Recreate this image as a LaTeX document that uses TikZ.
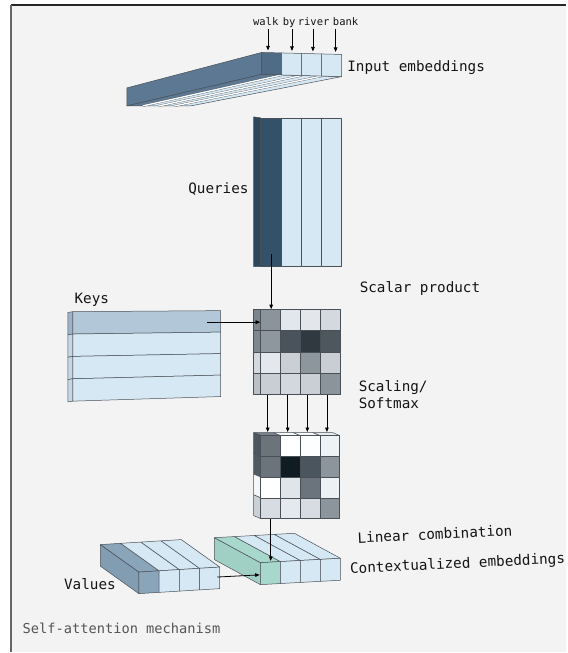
\documentclass[tikz,border=0pt]{standalone}
\usepackage{fontspec}
\setmonofont{DejaVu Sans Mono}
\usetikzlibrary{arrows.meta}
\definecolor{paper}{HTML}{F3F3F3}
\definecolor{edge}{HTML}{4A5058}
\definecolor{pale}{HTML}{D6E8F3}
\definecolor{navy}{HTML}{33526A}
\definecolor{navyside}{HTML}{2B475C}
\definecolor{steel}{HTML}{4F6B85}
\definecolor{steelside}{HTML}{5C7893}
\definecolor{keyrow}{HTML}{B2C7D7}
\definecolor{keyside}{HTML}{9DB3C5}
\definecolor{paleside}{HTML}{C4D7E4}
\definecolor{valcol}{HTML}{8AA4BA}
\definecolor{valside}{HTML}{829CB2}
\definecolor{mint}{HTML}{A8D8CC}
\definecolor{mintside}{HTML}{A0D0C4}
\definecolor{captiongray}{HTML}{555555}
\definecolor{ink}{HTML}{141414}

\begin{document}
\begin{tikzpicture}[x=1pt,y=-1pt,
  face/.style={draw=edge,line width=0.5pt,line join=round},
  flow/.style={draw=black,line width=0.8pt,-{Triangle[length=4.5pt,width=3.6pt]}},
  lbl/.style={font=\ttfamily\fontsize{14.3}{17}\selectfont,text=ink,inner sep=0pt},
  word/.style={font=\ttfamily\fontsize{10.5}{12}\selectfont,text=ink,inner sep=0pt},
]
% ---- frame ----
\fill[white] (0,0) rectangle (567,653);
\fill[paper] (11,5) rectangle (567,653);
\draw[line width=1.5pt,black!85] (11,5) -- (567,5);
\draw[line width=1.5pt,black!60] (11,5) -- (11,653);
\useasboundingbox (0,0) rectangle (567,653);

% ---- input embeddings slab (front face slightly tilted) ----
\filldraw[face,fill=steelside] (262,52.5) -- (127,88) -- (127,106) -- (262,74.5) -- cycle;
\foreach \i in {0,...,3} {
  \pgfmathsetmacro\fa{262+20*\i}
  \pgfmathsetmacro\fb{282+20*\i}
  \pgfmathsetmacro\ya{74.5+0.55*\i}
  \pgfmathsetmacro\yb{74.5+0.55*(\i+1)}
  \pgfmathsetmacro\ba{127+16*\i}
  \pgfmathsetmacro\bb{143+16*\i}
  \ifnum\i=0 \def\fc{steelside}\else\def\fc{pale}\fi
  \filldraw[face,fill=\fc] (\fa,\ya) -- (\fb,\yb) -- (\bb,106) -- (\ba,106) -- cycle;
}
\foreach \i in {1,2,3}
  \draw[edge,line width=0.3pt,double=white,double distance=1.4pt] (262+20*\i,74.5+0.55*\i) -- (127+16*\i,106);
\foreach \i in {0,...,3} {
  \ifnum\i=0 \def\fc{steel}\else\def\fc{pale}\fi
  \pgfmathsetmacro\fa{262+20*\i}
  \pgfmathsetmacro\fb{282+20*\i}
  \pgfmathsetmacro\ta{52.5+0.5*\i}
  \pgfmathsetmacro\tb{52.5+0.5*(\i+1)}
  \pgfmathsetmacro\ya{74.5+0.55*\i}
  \pgfmathsetmacro\yb{74.5+0.55*(\i+1)}
  \filldraw[face,fill=\fc] (\fa,\ta) -- (\fb,\tb) -- (\fb,\yb) -- (\fa,\ya) -- cycle;
}

% ---- queries ----
\filldraw[face,fill=navyside] (254,117) -- (261,118) -- (261,267) -- (254,267) -- cycle;
\foreach \i in {0,...,3} {
  \ifnum\i=0 \def\fc{navy}\else\def\fc{pale}\fi
  \filldraw[face,fill=\fc] (261+20.25*\i,118) rectangle +(20.25,149);
}

% ---- keys ----
\foreach \j in {0,...,3} {
  \pgfmathsetmacro\la{312+22.4*\j}
  \pgfmathsetmacro\lb{312+22.4*(\j+1)}
  \pgfmathsetmacro\ra{311+21.5*\j}
  \pgfmathsetmacro\rb{311+21.5*(\j+1)}
  \ifnum\j=0 \def\fc{keyrow}\def\sc{keyside}\else\def\fc{pale}\def\sc{paleside}\fi
  \filldraw[face,fill=\sc] (68,\la+0.8) -- (73,\la) -- (73,\lb) -- (68,\lb+0.8) -- cycle;
  \filldraw[face,fill=\fc] (73,\la) -- (221,\ra) -- (221,\rb) -- (73,\lb) -- cycle;
}

% ---- scalar product matrix ----
\foreach \j/\h in {0/7D858C,1/80888F,2/D4D9DE,3/B9C0C6} {
  \definecolor{tmp}{HTML}{\h}
  \filldraw[face,fill=tmp] (254,309.5+21.4*\j) -- (261,309.5+21.4*\j) -- (261,330.9+21.4*\j) -- (254,330.9+21.4*\j) -- cycle;
}
\foreach \j/\i/\h in {0/0/8C949B,0/1/E3E7EB,0/2/E3E7EB,0/3/D4D9DF,
                      1/0/8F979E,1/1/4A525B,1/2/2F393F,1/3/4E565E,
                      2/0/E4E8EC,2/1/C9CFD5,2/2/8E969D,2/3/C8CED4,
                      3/0/C8CED4,3/1/D3D8DE,3/2/C9CFD5,3/3/8C949B} {
  \definecolor{tmp}{HTML}{\h}
  \filldraw[face,fill=tmp] (261+20*\i,309.5+21.4*\j) rectangle +(20,21.4);
}

% ---- scaled / softmax matrix ----
\foreach \i/\h in {0/7A828A,1/F6F8FA,2/F6F8FA,3/E6EAEE} {
  \definecolor{tmp}{HTML}{\h}
  \filldraw[face,fill=tmp] (261+19.75*\i,436) -- (280.75+19.75*\i,436) -- (273.75+19.75*\i,433) -- (254+19.75*\i,433) -- cycle;
}
\foreach \j/\h in {0/4B5660,1/4F5A63,2/F4F6F8,3/C9D0D6} {
  \definecolor{tmp}{HTML}{\h}
  \filldraw[face,fill=tmp] (254,433+20.8*\j) -- (261,436+20.8*\j) -- (261,456.8+20.8*\j) -- (254,453.8+20.8*\j) -- cycle;
}
\foreach \j/\i/\h in {0/0/6B737B,0/1/FFFFFF,0/2/FDFEFF,0/3/EEF2F5,
                      1/0/6B737B,1/1/0F1C22,1/2/4B555E,1/3/8D959C,
                      2/0/FFFFFF,2/1/E0E5EA,2/2/6B747C,2/3/EEF1F4,
                      3/0/D6DCE2,3/1/E5E9ED,3/2/D6DCE2,3/3/8D959C} {
  \definecolor{tmp}{HTML}{\h}
  \filldraw[face,fill=tmp] (261+19.75*\i,436+20.8*\j) rectangle +(19.75,20.8);
}

% ---- values slab ----
\filldraw[face,fill=valside] (139,572.7) -- (100.5,545.2) -- (100.5,566.8) -- (139,594.3) -- cycle;
\foreach \i in {0,...,3} {
  \pgfmathsetmacro\xa{139+20.25*\i}
  \pgfmathsetmacro\ya{572.7-1.25*\i}
  \pgfmathsetmacro\xb{139+20.25*(\i+1)}
  \pgfmathsetmacro\yb{572.7-1.25*(\i+1)}
  \ifnum\i=0 \def\fc{valcol}\else\def\fc{pale}\fi
  \filldraw[face,fill=\fc] (\xa,\ya) -- (\xb,\yb) -- (\xb-38.5,\yb-27.5) -- (\xa-38.5,\ya-27.5) -- cycle;
  \filldraw[face,fill=\fc] (\xa,\ya) -- (\xb,\yb) -- (\xb,\yb+21.6) -- (\xa,\ya+21.6) -- cycle;
}

% ---- contextualized slab ----
\filldraw[face,fill=mintside] (260.7,563.3) -- (214.7,538.3) -- (214.7,560.3) -- (260.7,585.3) -- cycle;
\foreach \i in {0,...,3} {
  \pgfmathsetmacro\xa{260.7+20*\i}
  \pgfmathsetmacro\ya{563.3-1.1*\i}
  \pgfmathsetmacro\xb{260.7+20*(\i+1)}
  \pgfmathsetmacro\yb{563.3-1.1*(\i+1)}
  \ifnum\i=0 \def\fc{mint}\else\def\fc{pale}\fi
  \filldraw[face,fill=\fc] (\xa,\ya) -- (\xb,\yb) -- (\xb-46,\yb-25) -- (\xa-46,\ya-25) -- cycle;
  \filldraw[face,fill=\fc] (\xa,\ya) -- (\xb,\yb) -- (\xb,\yb+22) -- (\xa,\ya+22) -- cycle;
}

% ---- labels ----
\node[word,anchor=base] (walk)  at (266,25.5)   {walk};
\node[word,anchor=base] (by)    at (289.5,25.5) {by};
\node[word,anchor=base] (river) at (314,25.5)   {river};
\node[word,anchor=base] (bank)  at (346,25.5)   {bank};
\node[lbl,anchor=base west] (inp) at (347.5,72) {Input embeddings};
\node[lbl,anchor=base east] (qry) at (249,194) {Queries};
\node[lbl,anchor=base west] (key) at (74.5,304) {Keys};
\node[lbl,anchor=base west] (scp) at (360,293) {Scalar product};
\node[lbl,anchor=base west,align=left] (smx) at (359,409.3) {Scaling/\\Softmax};
\node[lbl,anchor=base,rotate=2.7] (lin) at (435.7,540) {Linear combination};
\node[lbl,anchor=base,rotate=2.7] (ctx) at (458.3,569) {Contextualized embeddings};
\node[lbl,anchor=base west] (val) at (64,590) {Values};
\node[lbl,anchor=base west,text=captiongray,font=\ttfamily\fontsize{13.7}{16}\selectfont] (cap) at (22.5,634.3) {Self-attention mechanism};

% ---- connector end points ----
\coordinate (walkS) at (268.3,29);  \coordinate (walkE) at (268.3,50.5);
\coordinate (byS)   at (292.3,29);  \coordinate (byE)   at (292.3,51);
\coordinate (rivS)  at (313.3,29);  \coordinate (rivE)  at (313.3,51.5);
\coordinate (bankS) at (336,29);    \coordinate (bankE) at (336,52);
\coordinate (qS) at (271.5,254);    \coordinate (qE) at (271.5,309.5);
\coordinate (kS) at (207,322.5);    \coordinate (kE) at (260.5,322.5);
\coordinate (s1S) at (268,395.5);   \coordinate (s1E) at (268,432.5);
\coordinate (s2S) at (288,395.5);   \coordinate (s2E) at (288,432.5);
\coordinate (s3S) at (307.7,395.5); \coordinate (s3E) at (307.7,432.5);
\coordinate (s4S) at (327.3,395.5); \coordinate (s4E) at (327.3,432.5);
\coordinate (lS) at (271,520);      \coordinate (lE) at (271,561.5);
\coordinate (vS) at (217.5,577.7);  \coordinate (vE) at (260,575.5);

% ---- connectors ----
\draw[flow] (walkS) -- (walkE);
\draw[flow] (byS) -- (byE);
\draw[flow] (rivS) -- (rivE);
\draw[flow] (bankS) -- (bankE);
\draw[flow] (qS) -- (qE);
\draw[flow] (kS) -- (kE);
\draw[flow] (s1S) -- (s1E);
\draw[flow] (s2S) -- (s2E);
\draw[flow] (s3S) -- (s3E);
\draw[flow] (s4S) -- (s4E);
\draw[flow] (lS) -- (lE);
\draw[flow] (vS) -- (vE);
\end{tikzpicture}
\end{document}
